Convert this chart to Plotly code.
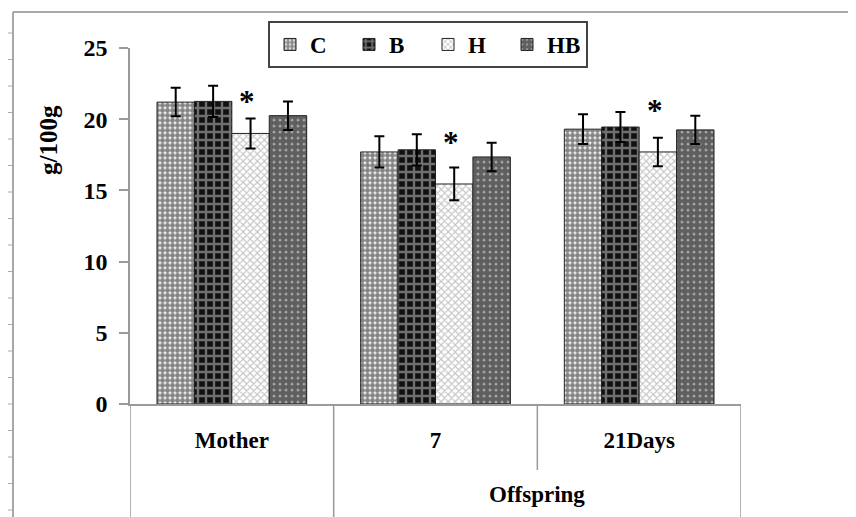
import plotly.graph_objects as go

categories = ["Mother", "7", "21Days"]
series_names = ["C", "B", "H", "HB"]
values_C = [21.2, 17.7, 19.3]
values_B = [21.25, 17.85, 19.45]
values_H = [19.0, 15.45, 17.7]
values_HB = [20.25, 17.35, 19.25]
err_C = [1.0, 1.1, 1.05]
err_B = [1.1, 1.1, 1.05]
err_H = [1.05, 1.15, 1.0]
err_HB = [1.0, 1.0, 1.0]
star_y = [21.3, 18.4, 20.7]
y_ticks = [0, 5, 10, 15, 20, 25]
outer_label = "Offspring"
y_title = "g/100g"

values = [values_C, values_B, values_H, values_HB]
errors = [err_C, err_B, err_H, err_HB]
patterns = [
    dict(shape=".", fgcolor="#151515", bgcolor="#f4f4f4", size=5, solidity=0.75),
    dict(shape="+", fgcolor="#d0d0d0", bgcolor="#111111", size=8, solidity=0.5),
    dict(shape="x", fgcolor="#8a8a8a", bgcolor="white", size=5, solidity=0.4),
    dict(shape=".", fgcolor="#0d0d0d", bgcolor="#b0b0b0", size=6, solidity=0.8),
]

FONT = "Liberation Serif"
OFF = 8  # page offset of the plot inside the browser window
W, H = 856 - OFF, 517 - OFF
L, R, T, B = 130 - OFF, 115, 48 - OFF, 113
PW, PH = W - L - R, H - T - B
BARGAP = 0.265


def px(xp):
    return (xp - OFF - L) / PW


def py(yp):
    return (H - B - (yp - OFF)) / PH


fig = go.Figure()
for name, v, e, pat in zip(series_names, values, errors, patterns):
    fig.add_trace(go.Bar(
        name="<b>%s</b>" % name, x=categories, y=v,
        marker=dict(pattern=pat, line=dict(color="#222", width=1)),
        error_y=dict(type="data", array=e, symmetric=True, color="black",
                     thickness=2, width=5),
    ))

shapes = []
line_gray = dict(color="#9a9a9a", width=1.5)
for xv, ybot in [(-0.5, 517), (0.5, 517), (1.5, 470), (2.5, 517)]:
    shapes.append(dict(type="line", xref="x", yref="paper", x0=xv, x1=xv,
                       y0=0, y1=py(ybot), line=line_gray))
shapes.append(dict(type="line", xref="paper", yref="y", x0=px(120), x1=0,
                   y0=0, y1=0, line=line_gray))
frame = dict(color="#a8a8a8", width=2)
shapes.append(dict(type="line", xref="paper", yref="paper", x0=px(13), x1=px(856),
                   y0=py(12), y1=py(12), line=frame))
shapes.append(dict(type="line", xref="paper", yref="paper", x0=px(13), x1=px(13),
                   y0=py(12), y1=py(517), line=frame))
yy = 33.0
while yy < 517:
    shapes.append(dict(type="line", xref="paper", yref="paper", x0=px(5), x1=px(13),
                       y0=py(yy), y1=py(yy), line=dict(color="#a8a8a8", width=1)))
    yy += 26.5

annotations = []
hoff = (1 - BARGAP) / 8
for i, sy in enumerate(star_y):
    annotations.append(dict(x=i + hoff - 0.015, y=sy, xref="x", yref="y", text="<b>*</b>",
                            showarrow=False, yshift=-1, xanchor="center", yanchor="middle",
                            font=dict(family=FONT, size=31, color="black")))
annotations.append(dict(x=1.5, y=py(494), xref="x", yref="paper", text="<b>%s</b>" % outer_label,
                        showarrow=False, xanchor="center", yanchor="middle",
                        font=dict(family=FONT, size=23, color="black")))
annotations.append(dict(x=px(48), y=py(140), xref="paper", yref="paper",
                        text="<b>%s</b>" % y_title, textangle=-90, showarrow=False,
                        xanchor="center", yanchor="middle",
                        font=dict(family=FONT, size=25, color="black")))

fig.update_layout(
    width=W, height=H,
    margin=dict(l=L, r=R, t=T, b=B, pad=0),
    paper_bgcolor="white", plot_bgcolor="white",
    barmode="group", bargap=BARGAP, bargroupgap=0,
    showlegend=True,
    legend=dict(orientation="h", x=px(268), y=1 + (T - (21 - OFF)) / PH,
                xanchor="left", yanchor="top",
                bordercolor="#444", borderwidth=2, bgcolor="white",
                font=dict(family=FONT, size=23, color="black"),
                entrywidth=34, entrywidthmode="pixels", itemwidth=30),
    shapes=shapes, annotations=annotations,
    font=dict(family=FONT, color="black"),
)
fig.update_xaxes(
    type="category", range=[-0.5, 2.5], showgrid=False, zeroline=False,
    showline=True, linecolor="#9a9a9a", linewidth=1.5, ticks="",
    tickfont=dict(family=FONT, size=23, color="black"), ticklabelstandoff=15,
    tickvals=categories, ticktext=["<b>%s</b>" % c for c in categories],
)
fig.update_yaxes(
    range=[0, 25], tickvals=y_ticks, ticktext=["<b>%d</b>" % t for t in y_ticks],
    showgrid=False, zeroline=False, showline=True, linecolor="#9a9a9a", linewidth=1.5,
    ticks="outside", ticklen=9, tickcolor="#9a9a9a", tickwidth=1.5,
    tickfont=dict(family=FONT, size=24, color="black"), ticklabelstandoff=7,
)
fig.write_html("out.html")
